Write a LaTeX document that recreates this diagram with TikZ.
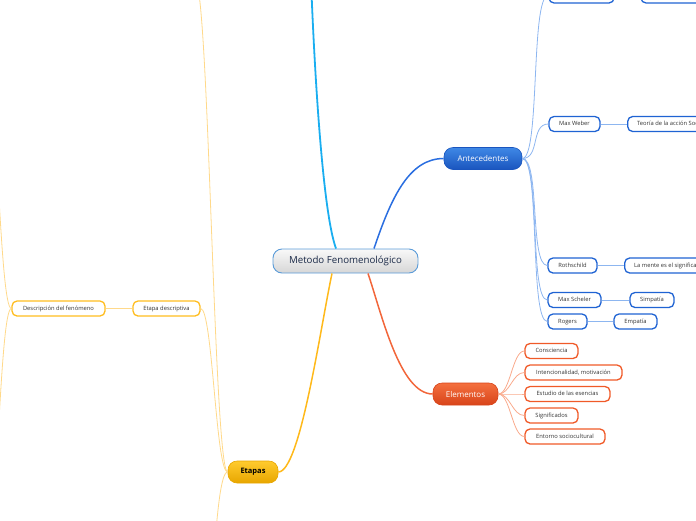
\documentclass[tikz,border=0pt]{standalone}
\usepackage{fontspec}
\setmainfont{Open Sans}
\definecolor{rootb}{HTML}{5A9BD8}
\definecolor{roottxt}{HTML}{1B2A48}
\definecolor{blueA}{HTML}{3F88E6}
\definecolor{blueB}{HTML}{1A55BE}
\definecolor{blueC}{HTML}{1F63D3}
\definecolor{blueL}{HTML}{8DB6F0}
\definecolor{orA}{HTML}{F4703F}
\definecolor{orB}{HTML}{D8441A}
\definecolor{orC}{HTML}{F05A28}
\definecolor{orL}{HTML}{F9AA8C}
\definecolor{yeA}{HTML}{FFCB2E}
\definecolor{yeB}{HTML}{E8A600}
\definecolor{yeC}{HTML}{FFBD1F}
\definecolor{yeL}{HTML}{FFD98A}
\definecolor{cyanM}{HTML}{1AAEF0}
\definecolor{blueM}{HTML}{2A6EE0}
\definecolor{orM}{HTML}{F2663A}
\definecolor{yeM}{HTML}{FFB91A}
\definecolor{txt}{HTML}{333333}
\begin{document}
\begin{tikzpicture}[x=1pt,y=-1pt,
  rootnode/.style={draw=rootb, line width=0.9pt, rounded corners=9pt,
    top color=white!95!gray, bottom color=black!16!white,
    minimum width=145pt, minimum height=24pt, inner sep=0pt,
    font=\fontsize{9.7}{11}\selectfont, text=roottxt},
  mainnode/.style={rounded corners=9pt, minimum height=22pt, inner sep=0pt, line width=0.6pt},
  bluemain/.style={mainnode, draw=blueB, top color=blueA, bottom color=blueB, text=white,
    font=\fontsize{8}{10}\selectfont},
  ormain/.style={mainnode, draw=orB, top color=orA, bottom color=orB, text=white,
    font=\fontsize{8}{10}\selectfont},
  yemain/.style={mainnode, draw=yeB, top color=yeA, bottom color=yeB, text=black,
    font=\fontsize{7.5}{9}\selectfont\bfseries},
  leaf/.style={rounded corners=5pt, fill=white, line width=1.3pt, minimum height=15pt,
    inner sep=0pt, text height=4.4pt, text depth=1.4pt, text=txt,
    font=\fontsize{5.8}{7}\selectfont},
  blueleaf/.style={leaf, draw=blueC},
  orleaf/.style={leaf, draw=orC},
  yeleaf/.style={leaf, draw=yeC},
  wideleaf/.style={blueleaf, anchor=west, inner xsep=9.5pt},
  bluecon/.style={draw=blueL, line width=0.8pt},
  orcon/.style={draw=orL, line width=0.8pt},
  yecon/.style={draw=yeL, line width=0.8pt},
]
\useasboundingbox (0,0) rectangle (696,520);

% central
\node[rootnode] (cen) at (345.5,261) {Metodo Fenomenológico};

% main topics
\node[bluemain, minimum width=78pt] (ante) at (483,158.5) {Antecedentes};
\node[ormain, minimum width=65pt] (elem) at (465.5,394) {Elementos};
\node[yemain, minimum width=50pt] (etap) at (253,472) {Etapas};
\coordinate (topc) at (311,-20);

% central connectors
\draw[cyanM, line width=1.8pt] ([xshift=-9.5pt]cen.north) .. controls (322,210) and (314,60) .. (topc);
\draw[blueM, line width=1.5pt] ([xshift=28.5pt]cen.north) .. controls (392,195) and (410,158.5) .. (ante.west);
\draw[orM, line width=1.5pt] ([xshift=22.5pt]cen.south) .. controls (382,315) and (400,394) .. (elem.west);
\draw[yeM, line width=1.5pt] ([xshift=-13.5pt]cen.south) .. controls (320,330) and (300,472) .. (etap.east);

% Antecedentes children
\node[blueleaf, minimum width=65pt] (top1) at (581.5,-4.5) {};
\node[blueleaf, minimum width=80pt] (top2) at (681,-4.5) {};
\node[blueleaf, minimum width=51pt] (weber) at (574.5,124) {Max Weber};
\node[wideleaf] (teoria) at (627,124) {Teoría de la acción Social};
\node[blueleaf, minimum width=49pt] (roth) at (572.5,265.5) {Rothschild};
\node[wideleaf] (mente) at (624,265.5) {La mente es el significado};
\node[blueleaf, minimum width=53pt] (scheler) at (574.5,300) {Max Scheler};
\node[blueleaf, minimum width=44pt] (simp) at (652,300) {Simpatía};
\node[blueleaf, minimum width=39pt] (rogers) at (567.5,321.5) {Rogers};
\node[blueleaf, minimum width=43pt] (empat) at (635.5,321.5) {Empatía};

\foreach \c in {top1,weber,roth,scheler,rogers}
  \draw[bluecon] (ante.east) .. controls +(18,0) and +(-18,0) .. (\c.west);
\draw[bluecon] (top1) -- (top2);
\draw[bluecon] (weber) -- (teoria);
\draw[bluecon] (roth) -- (mente);
\draw[bluecon] (scheler) -- (simp);
\draw[bluecon] (rogers) -- (empat);

% Elementos children
\node[orleaf, minimum width=53pt] (cons) at (551.5,351) {Consciencia};
\node[orleaf, minimum width=97pt] (inten) at (573.5,372.5) {Intencionalidad, motivación};
\node[orleaf, minimum width=85pt] (estu) at (567.5,394) {Estudio de las esencias};
\node[orleaf, minimum width=53pt] (signi) at (551.5,415.5) {Significados};
\node[orleaf, minimum width=80pt] (ento) at (565,436.5) {Entorno sociocultural};
\foreach \c in {cons,inten,estu,signi,ento}
  \draw[orcon] (elem.east) .. controls +(12,0) and +(-12,0) .. (\c.west);

% Etapas children
\node[yeleaf, minimum width=67pt] (edesc) at (166.5,308.5) {Etapa descriptiva};
\node[yeleaf, minimum width=93pt] (dfen) at (58.5,308.5) {Descripción del fenómeno};
\coordinate (eup) at (195,-20);
\coordinate (edown) at (200,640);
\coordinate (dup) at (-15,60);
\coordinate (ddown) at (-15,560);
\draw[yecon] (etap.west) .. controls +(-12,0) and +(12,0) .. (edesc.east);
\draw[yecon] (etap.west) .. controls +(-14,0) and +(14,0) .. (eup);
\draw[yecon] (etap.west) .. controls +(-14,0) and +(14,0) .. (edown);
\draw[yecon] (edesc) -- (dfen);
\draw[yecon] (dfen.west) .. controls +(-12,0) and +(12,0) .. (dup);
\draw[yecon] (dfen.west) .. controls +(-12,0) and +(12,0) .. (ddown);
\end{tikzpicture}
\end{document}
